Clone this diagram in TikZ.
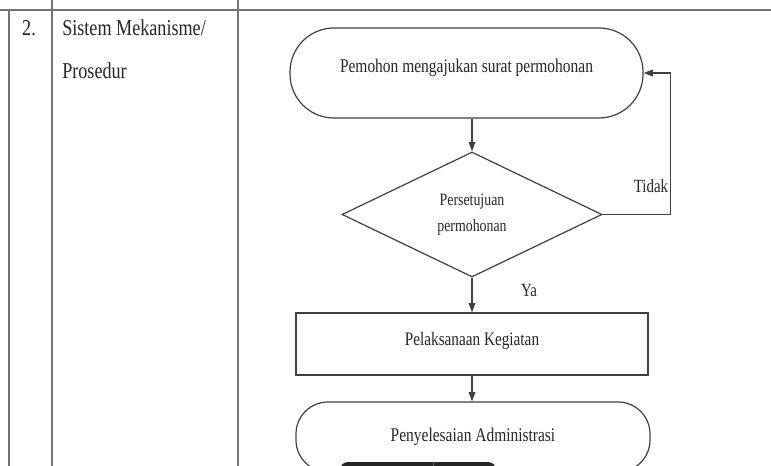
\documentclass[tikz,border=0pt]{standalone}
\usepackage{fontspec}
\setmainfont{Liberation Serif}[FakeStretch=0.8]
\usetikzlibrary{arrows.meta,shapes.geometric}
\begin{document}
\begin{tikzpicture}[x=0.75pt,y=-0.75pt,
  tbl/.style={draw=black!55, line width=1.2pt},
  flow/.style={draw=black!75, line width=0.9pt},
  arr/.style={flow, -{Triangle[length=7pt,width=5pt]}},
  txt/.style={text=black!85, inner sep=0pt},
  bigfont/.style={font=\fontsize{17}{20}\selectfont},
  term/.style={flow, text=black!85, font=\fontsize{14.5}{17}\selectfont},
  procbox/.style={flow, text=black!85, font=\fontsize{14.3}{17}\selectfont, minimum width=264pt, minimum height=46.5pt},
  decision/.style={flow, text=black!85, diamond, inner sep=0pt, minimum width=195pt, minimum height=93.75pt, align=center, font=\fontsize{13}{19.5}\selectfont}
]
\useasboundingbox (0,0) rectangle (771,466);
\clip (0,0) rectangle (771,466);
% table lines
\draw[tbl] (0,10) -- (771,10);
\draw[tbl] (9,10) -- (9,466);
\draw[tbl] (52,0) -- (52,466);
\draw[tbl] (238,0) -- (238,466);
% left column texts
\node[txt, bigfont, anchor=base] (num) at (29,36) {2.};
\node[txt, bigfont, anchor=base west] (judul1) at (62,36) {Sistem Mekanisme/};
\node[txt, bigfont, anchor=base west] (judul2) at (62,79) {Prosedur};
% flowchart
\node[term, rounded corners=33pt, minimum width=264.75pt, minimum height=67.5pt, text depth=11pt] (t1) at (466.5,73) {Pemohon mengajukan surat permohonan};
\node[decision] (dia) at (472,214.5) {Persetujuan\\permohonan};
\node[procbox, text depth=7pt] (proc) at (472,344) {Pelaksanaan Kegiatan};
\node[term, rounded corners=24pt, minimum width=265.5pt, minimum height=52.5pt] (t2) at (473,437) {Penyelesaian Administrasi};
% connectors
\draw[arr] (dia.north |- t1.south) -- (dia.north);
\draw[arr] (dia.south) -- (proc.north);
\draw[arr] (proc.south) -- (proc.south |- t2.north);
\draw[arr] (dia.east) -- ++(68,0) |- (t1.east);
% labels
\node[txt, font=\fontsize{14}{16}\selectfont] (tidak) at (651,186) {Tidak};
\node[txt, font=\fontsize{14}{16}\selectfont] (ya) at (529,290) {Ya};
% dark bar at bottom
\fill[black!85, rounded corners=6pt] (340,462) rectangle (496,490);
\draw[black!60, line width=0.6pt] (433,462) -- (433,466);
\end{tikzpicture}
\end{document}
